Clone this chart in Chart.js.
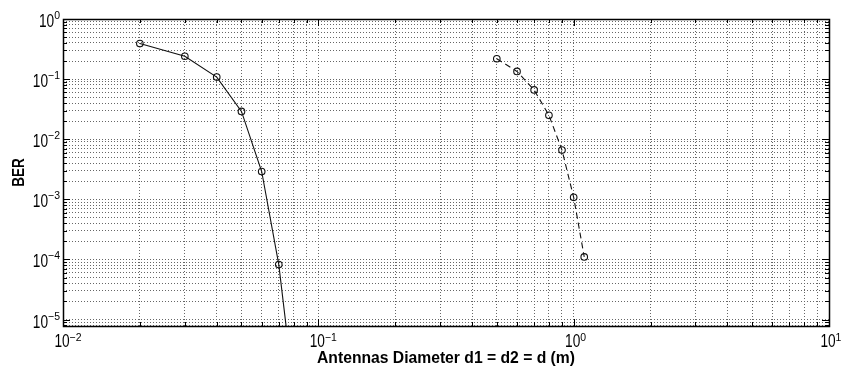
<!DOCTYPE html>
<html>
<head>
<meta charset="utf-8">
<script src="https://cdn.jsdelivr.net/npm/chart.js@4"></script>
<style>
  html, body { margin: 0; padding: 0; background: #fff; }
</style>
</head>
<body>
<canvas id="berChart" width="841" height="372"></canvas>
<script>
// solid curve (small antennas) and dashed curve (larger antennas)
const diameterA = [0.02, 0.03, 0.04, 0.05, 0.06, 0.07, 0.08];
const berA = [0.39, 0.24, 0.108, 0.029, 0.0029, 0.000082, 0.0000007];
const diameterB = [0.5, 0.6, 0.7, 0.8, 0.9, 1.0, 1.1];
const berB = [0.218, 0.134, 0.066, 0.025, 0.0066, 0.00108, 0.00011];

const xDecades = [-2, -1, 0, 1];
const yDecades = [-6, -5, -4, -3, -2, -1, 0];
const xRange = [0.01, 10];
const yRange = [7.8e-6, 1];
const xLabel = 'Antennas Diameter d1 = d2 = d (m)';
const yLabel = 'BER';

function logTicks(decades, range) {
    const out = [];
    decades.forEach(d => {
        for (let m = 1; m <= 9; m++) {
            const v = m * Math.pow(10, d);
            if (v >= range[0] * 0.999 && v <= range[1] * 1.001) {
                out.push({ value: v, major: m === 1, exp: d });
            }
        }
    });
    return out;
}

// draw text squeezed horizontally (narrow font look)
function narrowText(ctx, text, x, y, sq) {
    ctx.save();
    ctx.translate(x, y);
    ctx.scale(sq, 1);
    ctx.fillText(text, 0, 0);
    ctx.restore();
}

const BASE_FONT = '18px "Liberation Sans"', BASE_SQ = 0.76;
const SUP_FONT = '11px "Liberation Sans"', SUP_SQ = 0.95;

function powWidths(ctx, exp) {
    const sup = exp < 0 ? '\u2212' + (-exp) : String(exp);
    ctx.font = BASE_FONT;
    const wb = ctx.measureText('10').width * BASE_SQ;
    ctx.font = SUP_FONT;
    const ws = ctx.measureText(sup).width * SUP_SQ;
    return { sup, wb, ws };
}

function drawPow(ctx, exp, left, baseY, supY) {
    const { sup, wb } = powWidths(ctx, exp);
    ctx.textAlign = 'left';
    ctx.textBaseline = 'alphabetic';
    ctx.font = BASE_FONT;
    narrowText(ctx, '10', left, baseY, BASE_SQ);
    ctx.font = SUP_FONT;
    narrowText(ctx, sup, left + wb, supY, SUP_SQ);
}

const axisDecor = {
    id: 'axisDecor',
    afterDraw(chart) {
        const { ctx, chartArea: a, scales: { x, y } } = chart;
        ctx.save();
        ctx.strokeStyle = '#000';
        ctx.lineWidth = 1;

        // inward tick marks, all four sides
        ctx.beginPath();
        x.ticks.forEach(t => {
            const px = Math.round(x.getPixelForValue(t.value)) + 0.5;
            const len = t.major ? 7 : 4;
            ctx.moveTo(px, a.bottom); ctx.lineTo(px, a.bottom - len);
            ctx.moveTo(px, a.top); ctx.lineTo(px, a.top + len);
        });
        y.ticks.forEach(t => {
            const py = Math.round(y.getPixelForValue(t.value)) + 0.5;
            const len = t.major ? 7 : 4;
            ctx.moveTo(a.left, py); ctx.lineTo(a.left + len, py);
            ctx.moveTo(a.right, py); ctx.lineTo(a.right - len, py);
        });
        ctx.stroke();

        ctx.lineWidth = 1.5;
        ctx.strokeRect(Math.round(a.left) + 0.5, Math.round(a.top) + 0.5,
            Math.round(a.right - a.left), Math.round(a.bottom - a.top));

        // tick labels 10^n
        ctx.fillStyle = '#000';
        x.ticks.filter(t => t.major).forEach(t => {
            const px = x.getPixelForValue(t.value);
            const { wb } = powWidths(ctx, t.exp);
            drawPow(ctx, t.exp, px - wb / 2 - 1, a.bottom + 21, a.bottom + 15);
        });
        y.ticks.filter(t => t.major).forEach(t => {
            const py = y.getPixelForValue(t.value);
            const { wb, ws } = powWidths(ctx, t.exp);
            drawPow(ctx, t.exp, a.left - 3 - wb - ws, py + 8, py);
        });

        // axis titles
        ctx.font = 'bold 16px "Liberation Sans"';
        ctx.textAlign = 'center';
        ctx.textBaseline = 'alphabetic';
        narrowText(ctx, xLabel, (a.left + a.right) / 2, a.bottom + 37, 0.98);

        ctx.font = 'bold 17px "Liberation Sans"';
        ctx.save();
        ctx.translate(24, (a.top + a.bottom) / 2);
        ctx.rotate(-Math.PI / 2);
        narrowText(ctx, yLabel, 0, 0, 0.8);
        ctx.restore();

        ctx.restore();
    }
};

const gridStyle = {
    grid: { color: '#666', lineWidth: 1, drawTicks: false },
    border: { display: false, dash: [1, 2] },
    ticks: { display: false }
};

new Chart(document.getElementById('berChart'), {
    type: 'line',
    data: {
        datasets: [
            {
                label: 'small',
                data: diameterA.map((d, i) => ({ x: d, y: berA[i] })),
                borderColor: '#111',
                borderWidth: 1.1,
                pointRadius: 3.3,
                pointBorderColor: '#111',
                pointBackgroundColor: 'rgba(0,0,0,0)',
                pointBorderWidth: 1.1,
                tension: 0
            },
            {
                label: 'large',
                data: diameterB.map((d, i) => ({ x: d, y: berB[i] })),
                borderColor: '#111',
                borderWidth: 1.1,
                borderDash: [6, 4],
                pointRadius: 3.3,
                pointBorderColor: '#111',
                pointBackgroundColor: 'rgba(0,0,0,0)',
                pointBorderWidth: 1.1,
                tension: 0
            }
        ]
    },
    options: {
        responsive: false,
        animation: false,
        devicePixelRatio: 1,
        layout: { padding: { left: 63, top: 19, right: 12, bottom: 46 } },
        plugins: { legend: { display: false }, tooltip: { enabled: false } },
        scales: {
            x: {
                type: 'logarithmic',
                min: xRange[0],
                max: xRange[1],
                afterBuildTicks: s => { s.ticks = logTicks(xDecades, xRange); },
                ...gridStyle
            },
            y: {
                type: 'logarithmic',
                min: yRange[0],
                max: yRange[1],
                afterBuildTicks: s => { s.ticks = logTicks(yDecades, yRange); },
                ...gridStyle
            }
        }
    },
    plugins: [axisDecor]
});
</script>
</body>
</html>
